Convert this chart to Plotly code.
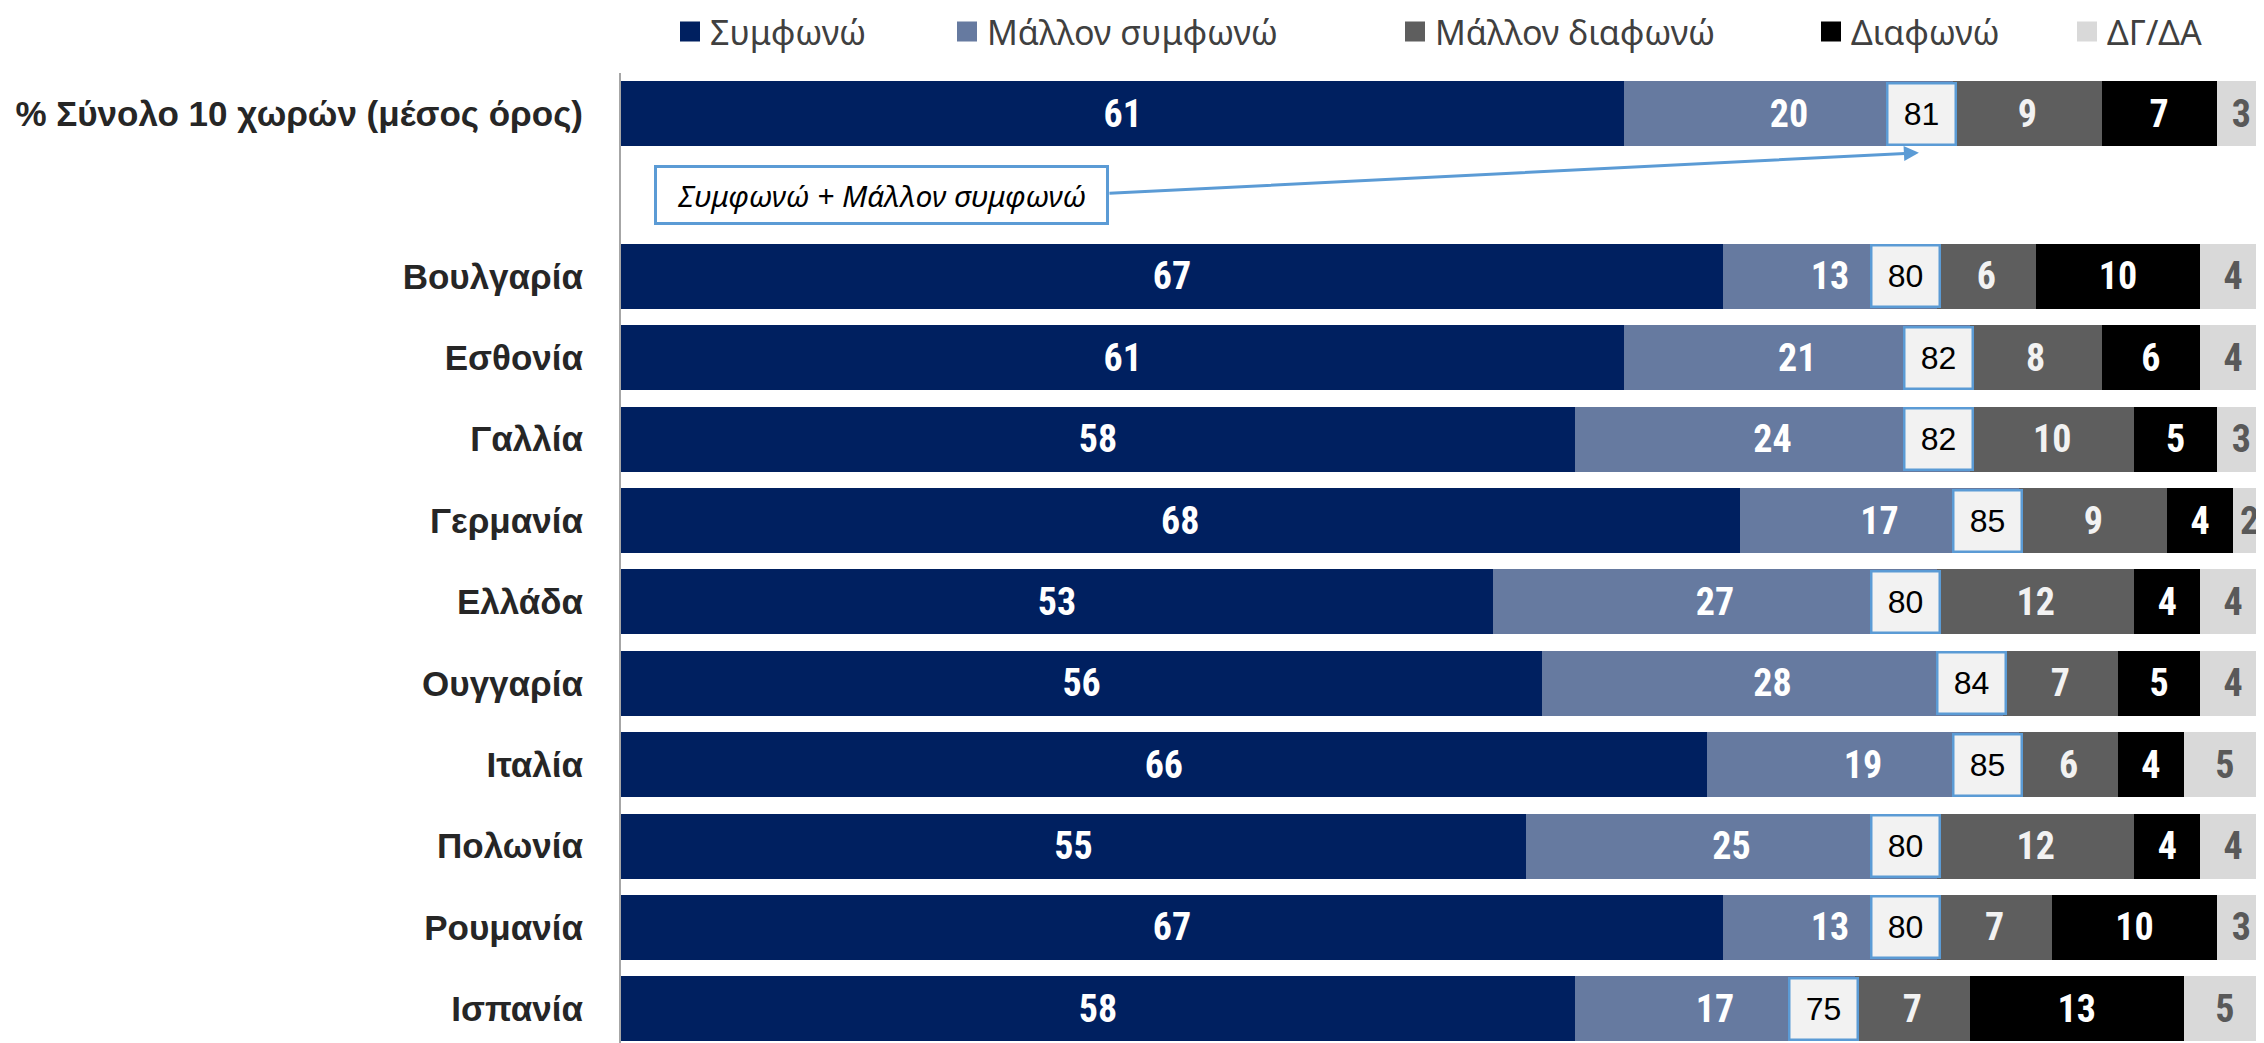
import plotly.graph_objects as go

# ---- data ----
categories = ["% Σύνολο 10 χωρών (μέσος όρος)", "Βουλγαρία", "Εσθονία", "Γαλλία", "Γερμανία",
              "Ελλάδα", "Ουγγαρία", "Ιταλία", "Πολωνία", "Ρουμανία", "Ισπανία"]
series_names = ["Συμφωνώ", "Μάλλον συμφωνώ", "Μάλλον διαφωνώ", "Διαφωνώ", "ΔΓ/ΔΑ"]
agree = [61, 67, 61, 58, 68, 53, 56, 66, 55, 67, 58]
rather_agree = [20, 13, 21, 24, 17, 27, 28, 19, 25, 13, 17]
rather_disagree = [9, 6, 8, 10, 9, 12, 7, 6, 12, 7, 7]
disagree = [7, 10, 6, 5, 4, 4, 5, 4, 4, 10, 13]
dk_na = [3, 4, 4, 3, 2, 4, 4, 5, 4, 3, 5]
combined_label = "Συμφωνώ + Μάλλον συμφωνώ"

# ---- styling ----
colors = ["#002060", "#667AA0", "#5E5E5E", "#000000", "#D9D9D9"]
text_colors = ["#FFFFFF", "#FFFFFF", "#F2F2F2", "#FFFFFF", "#595959"]
series = [agree, rather_agree, rather_disagree, disagree, dk_na]

# row positions: total at 0, blank row, then countries
ypos = [0] + [i + 2 for i in range(len(categories) - 1)]

# page has an 8px body margin: figure is offset by 8px
OFF = 8
W, H = 2264 - OFF, 1043 - OFF
PL = 621 - OFF          # plot left inside figure
PT = 73 - OFF           # plot top inside figure
PW = W - PL
PH = H - PT
UNIT = 16.45            # px per percentage point

LABEL_FONT = "Liberation Sans Narrow, Arial Narrow, Roboto Condensed, Liberation Sans, Arial"
LABEL_SIZE = 38
fig = go.Figure()
for name, vals, c, tc in zip(series_names, series, colors, text_colors):
    fig.add_trace(go.Bar(
        y=ypos, x=vals, orientation="h", name=name,
        marker=dict(color=c, line=dict(width=0)),
        text=vals, texttemplate="<b>%{text}</b>", textposition="inside",
        insidetextanchor="middle", constraintext="none",
        textfont=dict(family=LABEL_FONT, size=LABEL_SIZE, color=tc),
        showlegend=False, hoverinfo="skip", width=0.8,
    ))

# legend entries (separate legends so they sit where the reference places them)
legend_px = [690, 967, 1415, 1831, 2087]   # symbol centres on the page
legend_names = ["legend", "legend2", "legend3", "legend4", "legend5"]
for name, c, ln in zip(series_names, colors, legend_names):
    fig.add_trace(go.Scatter(
        x=[None], y=[None], mode="markers", name=name, legend=ln,
        marker=dict(symbol="square", size=16, color=c, line=dict(color=c, width=4)),
        showlegend=True, hoverinfo="skip",
    ))

layout_legends = {}
for ln, px in zip(legend_names, legend_px):
    layout_legends[ln] = dict(
        x=(px - 20 - 621) / PW, xanchor="left", xref="paper",
        y=1 + (73 - 32) / PH, yanchor="middle", yref="paper",
        orientation="h", bgcolor="rgba(0,0,0,0)", borderwidth=0,
        font=dict(family="Noto Sans", size=34, color="#404040"),
        itemclick=False, itemdoubleclick=False,
    )

# sum boxes (Συμφωνώ + Μάλλον συμφωνώ)
annotations = []
for yp, a, r in zip(ypos, agree, rather_agree):
    annotations.append(dict(
        x=a + r, y=yp, xref="x", yref="y", xanchor="right", yanchor="middle",
        xshift=4, text=str(a + r), showarrow=False,
        font=dict(family="Liberation Sans, Arial", size=32, color="#000000"),
        bgcolor="#F2F2F2", bordercolor="#5B9BD5", borderwidth=2.5, borderpad=0,
        width=66, height=59,
    ))

# callout box and arrow
annotations.append(dict(
    x=15.85, y=1.0, xref="x", yref="y", xanchor="center", yanchor="middle",
    text="<i>" + combined_label + "</i>", showarrow=False,
    font=dict(family="Noto Sans", size=30, color="#000000"),
    bgcolor="#FFFFFF", bordercolor="#5B9BD5", borderwidth=3, borderpad=0,
    width=449, height=54,
))
annotations.append(dict(
    x=78.9, y=0.48, xref="x", yref="y", ax=29.6, ay=0.98, axref="x", ayref="y",
    text="", showarrow=True, arrowhead=2, arrowsize=1, arrowwidth=3,
    arrowcolor="#5B9BD5", standoff=0, startstandoff=0,
))

fig.update_layout(
    barmode="stack",
    width=W, height=H,
    margin=dict(l=PL, r=0, t=PT, b=0, pad=0, autoexpand=False),
    paper_bgcolor="#FFFFFF", plot_bgcolor="#FFFFFF",
    uniformtext=dict(mode="show", minsize=LABEL_SIZE),
    annotations=annotations,
    xaxis=dict(range=[0, PW / UNIT], visible=False, fixedrange=True),
    yaxis=dict(
        range=[11.42, -0.5], tickvals=ypos,
        ticktext=["<b>" + c + "</b>" for c in categories],
        showline=True, linecolor="#A6A6A6", linewidth=2, ticks="",
        showgrid=False, zeroline=False, ticklabelstandoff=29,
        tickfont=dict(family="Liberation Sans, Arial", size=35, color="#262626"),
        fixedrange=True,
    ),
    **layout_legends,
)

fig.write_html("out.html")
